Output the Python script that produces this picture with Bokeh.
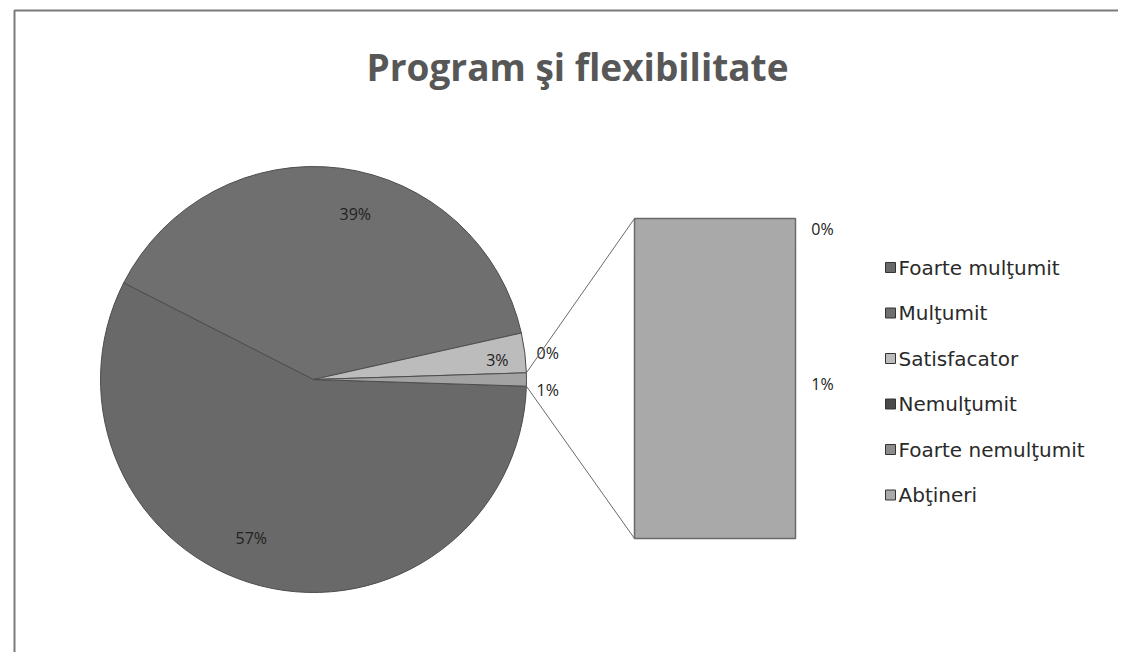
import math
from bokeh.plotting import figure
from bokeh.models import Range1d, ColumnDataSource
from bokeh.core.properties import value
from bokeh.embed import file_html
from bokeh.resources import INLINE

# ---------------- data ----------------
title_text = "Program şi flexibilitate"
categories = ["Foarte mulţumit", "Mulţumit", "Satisfacator", "Nemulţumit",
              "Foarte nemulţumit", "Abţineri"]
values = [57, 39, 3, 0, 0, 1]          # percent
n_in_pie = 4                            # the rest goes into the bar ("Other")
slice_colors = ["#696969", "#6f6f6f", "#bcbcbc", "#4a4a4a", "#8c8c8c", "#a9a9a9"]
other_color = "#a3a3a3"

# ---------------- layout ----------------
W, H = 1118, 652
def sx(X):  # screen px -> data x
    return X
def sy(Y):  # screen px -> data y
    return H - Y

p = figure(width=W, height=H, output_backend="svg", toolbar_location=None,
           x_range=Range1d(0, W), y_range=Range1d(0, H), min_border=0)
p.axis.visible = False
p.grid.visible = False
p.outline_line_color = None
p.background_fill_color = "white"

FONT = "Open Sans"

# page frame (scan border)
p.line([sx(14), sx(14), W], [0, sy(10), sy(10)], line_color="#7a7a7a", line_width=2)

# title
p.text([sx(577)], [sy(66)], text=[title_text], text_font=value(FONT),
       text_font_style="bold", text_font_size="37px", text_color="#575757",
       text_align="center", text_baseline="middle")

# ---------------- pie ----------------
cx, cy, R = sx(313), sy(379), 213.0
total = float(sum(values))
other_val = sum(values[n_in_pie:])
pie_vals = values[:n_in_pie] + [other_val]
pie_cols = slice_colors[:n_in_pie] + [other_color]

# "Other" slice is centered on 3 o'clock; the rest follow counter-clockwise
# in reverse order (Excel draws clockwise starting after "Other").
half_other = other_val / total * math.pi
a = half_other
ang = {}
for i in range(n_in_pie - 1, -1, -1):
    span = pie_vals[i] / total * 2 * math.pi
    ang[i] = (a, a + span)
    a += span
ang[n_in_pie] = (-half_other, half_other)

ws = {"x": [], "y": [], "s": [], "e": [], "c": []}
for i in range(len(pie_vals)):
    if pie_vals[i] <= 0:
        continue
    ws["x"].append(cx); ws["y"].append(cy)
    ws["s"].append(ang[i][0]); ws["e"].append(ang[i][1]); ws["c"].append(pie_cols[i])
p.wedge(x="x", y="y", radius=R, start_angle="s", end_angle="e", fill_color="c",
        line_color="#4d4d4d", line_width=1, source=ColumnDataSource(ws))

# pie labels
inner_x, inner_y, inner_t = [], [], []
outer = []
for i in range(len(pie_vals)):
    mid = (ang[i][0] + ang[i][1]) / 2
    t = "%d%%" % pie_vals[i]
    if pie_vals[i] >= 10:
        rr = 0.80 * R
        m2 = mid - math.radians(7)
        inner_x.append(cx + rr * math.cos(m2))
        inner_y.append(cy + rr * math.sin(m2))
        inner_t.append(t)
    elif pie_vals[i] >= 2:
        rr = 0.87 * R
        inner_x.append(cx + rr * math.cos(mid))
        inner_y.append(cy + rr * math.sin(mid) - 4)
        inner_t.append(t)
    else:
        rr = 1.10 * R
        outer.append([cx + rr * math.cos(mid), cy + rr * math.sin(mid), t])
# spread overlapping outer labels
outer.sort(key=lambda o: -o[1])
if len(outer) == 2 and abs(outer[0][1] - outer[1][1]) < 37:
    m = (outer[0][1] + outer[1][1]) / 2 + 4
    outer[0][1] = m + 18.5
    outer[1][1] = m - 18.5
p.text(inner_x, inner_y, text=inner_t, text_font=value(FONT), text_font_size="16px",
       text_color="#222222", text_align="center", text_baseline="middle")
p.text([o[0] for o in outer], [o[1] for o in outer], text=[o[2] for o in outer],
       text_font=value(FONT), text_font_size="16px", text_color="#222222",
       text_align="center", text_baseline="middle")

# ---------------- bar of "Other" ----------------
bx0, bx1 = sx(634), sx(795)
btop, bbot = sy(218), sy(538)
bar_items = list(range(n_in_pie, len(values)))
scale = (btop - bbot) / other_val if other_val else 0
cur = btop
q = {"l": [], "r": [], "t": [], "b": [], "c": []}
bl_x, bl_y, bl_t = [], [], []
for i in bar_items:
    h = values[i] * scale
    top, bot = cur, cur - h
    if h > 0:
        q["l"].append(bx0); q["r"].append(bx1); q["t"].append(top); q["b"].append(bot)
        q["c"].append(slice_colors[i])
    ymid = (top + bot) / 2
    ymid = min(max(ymid, bbot + 10), btop - 10)
    bl_x.append(bx1 + 27); bl_y.append(ymid); bl_t.append("%d%%" % values[i])
    cur = bot
p.quad(left="l", right="r", top="t", bottom="b", fill_color="c",
       line_color="#6a6a6a", line_width=1.5, source=ColumnDataSource(q))
p.text(bl_x, [y - 5 if y < btop - 20 else y for y in bl_y], text=bl_t, text_font=value(FONT),
       text_font_size="16px", text_color="#222222", text_align="center",
       text_baseline="middle")

# connector lines from the "Other" slice to the bar
ox1 = cx + R * math.cos(half_other); oy1 = cy + R * math.sin(half_other)
ox2 = cx + R * math.cos(-half_other); oy2 = cy + R * math.sin(-half_other)
p.segment([ox1, ox2], [oy1, oy2], [bx0, bx0], [btop, bbot], line_color="#6a6a6a",
          line_width=1)

# ---------------- legend ----------------
lx, ly0, ldy = sx(890), sy(267), 45.5
lys = [ly0 - k * ldy for k in range(len(categories))]
p.rect([lx] * len(categories), lys, width=10, height=10, fill_color=slice_colors,
       line_color="#333333", line_width=1)
p.text([lx + 8] * len(categories), lys, text=categories, text_font=value("DejaVu Sans"),
       text_font_size="20px", text_color="#2a2a2a", text_align="left",
       text_baseline="middle")

open("out.html", "w").write(file_html(p, INLINE))
